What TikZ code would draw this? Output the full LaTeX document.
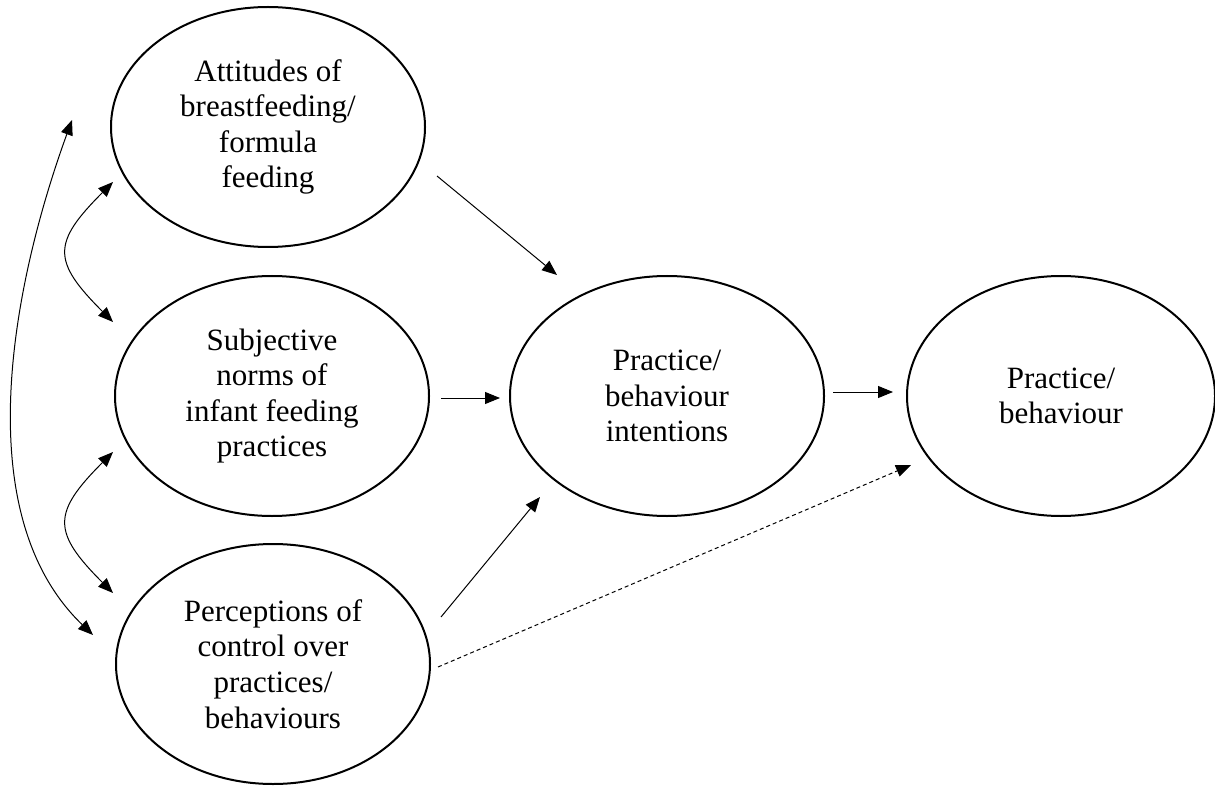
\documentclass[tikz,border=0pt]{standalone}
\usepackage{fontspec}
\setmainfont{Liberation Serif}
\usetikzlibrary{shapes.geometric,arrows.meta}
\begin{document}
\begin{tikzpicture}[x=0.5pt,y=-0.5pt,
  oval/.style={draw, line width=1pt, ellipse, minimum width=157pt, minimum height=120pt,
    inner sep=0pt, outer sep=0pt, align=center, font=\fontsize{15.5}{17.8}\selectfont},
  arr/.style={line width=0.5pt, -{Triangle[length=7.5pt,width=6pt]}},
  darr/.style={line width=0.5pt, {Triangle[length=7.5pt,width=6pt]}-{Triangle[length=7.5pt,width=6pt]}},
  dasharr/.style={arr, dash pattern=on 2pt off 1.5pt}]
\useasboundingbox (0,0) rectangle (1215,786);
\node[oval] (A) at (268,127) {Attitudes of\\breastfeeding/\\formula\\feeding};
\node[oval] (B) at (272,396) {Subjective\\norms of\\infant feeding\\practices};
\node[oval] (C) at (273,664) {Perceptions of\\control over\\practices/\\behaviours};
\node[oval] (D) at (667,396) {Practice/\\behaviour\\intentions};
\node[oval, minimum width=154pt] (E) at (1061,396) {Practice/\\behaviour};
% connector ends
\coordinate (AD1) at (437,176);
\coordinate (AD2) at (557,275);
\coordinate (BD1) at (441,398);
\coordinate (BD2) at (500,398);
\coordinate (DE1) at (833,392);
\coordinate (DE2) at (893,392);
\coordinate (CD1) at (441,617);
\coordinate (CD2) at (540,497);
\coordinate (CE1) at (438,667);
\coordinate (CE2) at (911,465);
\coordinate (AB1) at (113,182);
\coordinate (AB2) at (113,322);
\coordinate (BC1) at (113,452);
\coordinate (BC2) at (113,593);
\coordinate (AC1) at (72,120);
\coordinate (AC2) at (93,635);
\draw[arr] (AD1) -- (AD2);
\draw[arr] (BD1) -- (BD2);
\draw[arr] (DE1) -- (DE2);
\draw[arr] (CD1) -- (CD2);
\draw[dasharr] (CE1) -- (CE2);
\draw[darr] (AB1) .. controls (52,243) and (52,261) .. (AB2);
\draw[darr] (BC1) .. controls (52,513) and (52,532) .. (BC2);
\draw[darr] (AC1) .. controls (12,285) and (-33,514) .. (AC2);
\end{tikzpicture}
\end{document}
